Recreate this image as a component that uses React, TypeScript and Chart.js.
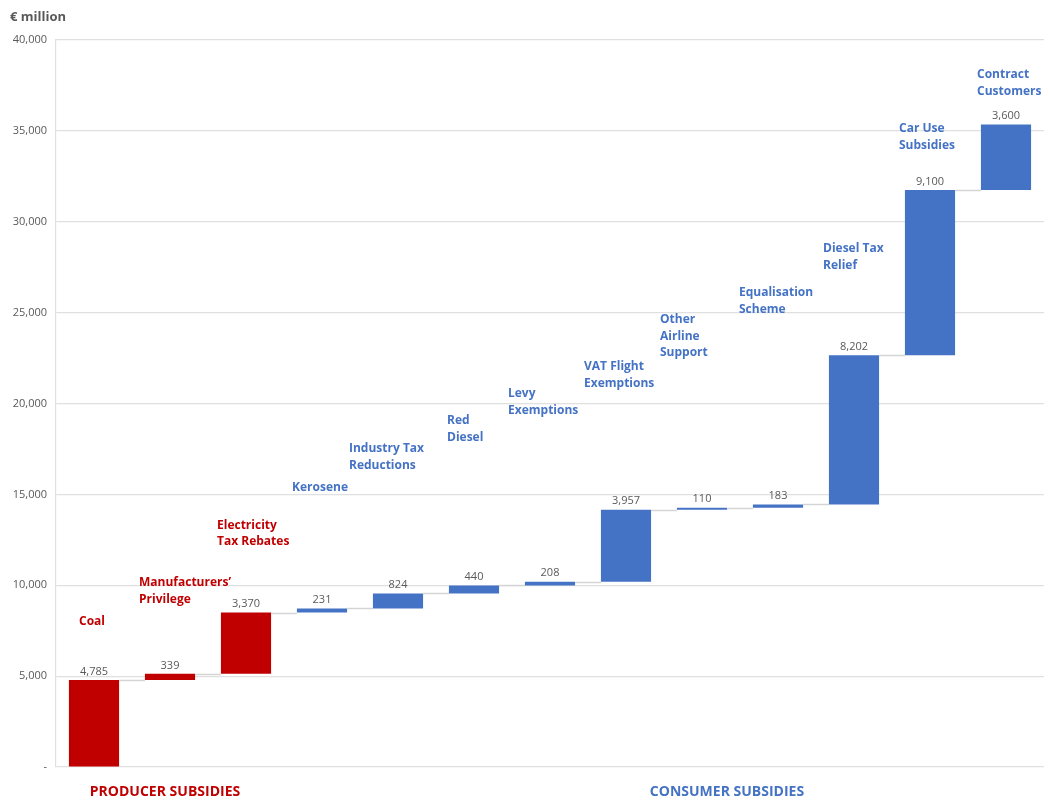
import React, { useEffect, useRef } from "react";
import { Chart, registerables } from "chart.js";

Chart.register(...registerables);

const categories: string[][] = [
  ["Coal"],
  ["Manufacturers’", "Privilege"],
  ["Electricity", "Tax Rebates"],
  ["Kerosene"],
  ["Industry Tax", "Reductions"],
  ["Red", "Diesel"],
  ["Levy", "Exemptions"],
  ["VAT Flight", "Exemptions"],
  ["Other", "Airline", "Support"],
  ["Equalisation", "Scheme"],
  ["Diesel Tax", "Relief"],
  ["Car Use", "Subsidies"],
  ["Contract", "Customers"],
];
const values: number[] = [4785, 339, 3370, 231, 824, 440, 208, 3957, 110, 183, 8202, 9100, 3600];
const groups: string[] = ["producer", "producer", "producer", "consumer", "consumer", "consumer", "consumer", "consumer", "consumer", "consumer", "consumer", "consumer", "consumer"];
const yTicks: number[] = [0, 5000, 10000, 15000, 20000, 25000, 30000, 35000, 40000];

// label placement: [x offset in px from bar centre, y anchor value of first line]
const labelLayout: [number, number][] = [
  [-15, 7980], [-31, 10120], [-29, 13310], [-30, 15350], [-49, 17500], [-27, 19040],
  [-42, 20520], [-42, 22010], [-42, 24590], [-39, 26080], [-31, 28500], [-31, 35100], [-29, 38070],
];

const RED = "#c00000";
const BLUE = "#4472c4";

export default function App() {
  const ref = useRef<HTMLCanvasElement | null>(null);
  useEffect(() => {
    document.body.style.margin = "0";
    const starts: number[] = [];
    const ends: number[] = [];
    let acc = 0;
    values.forEach((v) => {
      starts.push(acc);
      acc += v;
      ends.push(acc);
    });
    const colors = groups.map((g) => (g === "producer" ? RED : BLUE));

    const overlay = {
      id: "overlay",
      afterDatasetsDraw(chart: any) {
        const ctx = chart.ctx;
        const meta = chart.getDatasetMeta(0);
        const ys = chart.scales.y;
        const xs = chart.scales.x;
        ctx.save();
        // connectors
        ctx.strokeStyle = "#d4d4d4";
        ctx.lineWidth = 1.5;
        for (let i = 0; i < meta.data.length - 1; i++) {
          const a = meta.data[i];
          const b = meta.data[i + 1];
          const y = Math.round(ys.getPixelForValue(ends[i])) + 0.5;
          ctx.beginPath();
          ctx.moveTo(a.x + a.width / 2, y);
          ctx.lineTo(b.x - b.width / 2, y);
          ctx.stroke();
        }
        // value labels
        ctx.fillStyle = "#595959";
        ctx.font = "11px 'Open Sans'";
        ctx.textAlign = "center";
        ctx.textBaseline = "bottom";
        meta.data.forEach((el: any, i: number) => {
          const top = ys.getPixelForValue(ends[i]);
          ctx.fillText(values[i].toLocaleString("en-US"), el.x, top - 3);
        });
        // category labels
        ctx.font = "bold 12px 'Open Sans'";
        ctx.textAlign = "left";
        ctx.textBaseline = "middle";
        categories.forEach((lines, i) => {
          const [dx, yv] = labelLayout[i];
          const x = xs.getPixelForValue(i) + dx;
          const y0 = ys.getPixelForValue(yv);
          ctx.fillStyle = colors[i];
          lines.forEach((ln, k) => ctx.fillText(ln, x, y0 + k * 16.5));
        });
        // group labels
        ctx.font = "bold 14px 'Open Sans'";
        ctx.textAlign = "center";
        ctx.fillStyle = RED;
        ctx.fillText("PRODUCER SUBSIDIES", 165, 792);
        ctx.fillStyle = BLUE;
        ctx.fillText("CONSUMER SUBSIDIES", 727, 792);
        // unit
        ctx.font = "bold 13px 'Open Sans'";
        ctx.textAlign = "left";
        ctx.fillStyle = "#595959";
        ctx.fillText("€ million", 10, 17);
        ctx.restore();
      },
    };

    const chart = new Chart(ref.current as HTMLCanvasElement, {
      type: "bar",
      data: {
        labels: categories.map((c) => c.join(" ")),
        datasets: [
          {
            data: values.map((_, i) => [starts[i], ends[i]]) as any,
            backgroundColor: colors,
            borderWidth: 0,
            barPercentage: 0.66,
            categoryPercentage: 1,
          },
        ],
      },
      options: {
        animation: false,
        responsive: false,
        maintainAspectRatio: false,
        layout: { padding: { left: 0, top: 40, right: 6, bottom: 35 } },
        plugins: { legend: { display: false }, tooltip: { enabled: false } },
        scales: {
          x: { display: false, offset: true },
          y: {
            min: 0,
            max: 40000,
            afterFit(scale: any) {
              scale.width = 56;
            },
            afterBuildTicks(scale: any) {
              scale.ticks = yTicks.map((v) => ({ value: v }));
            },
            ticks: {
              color: "#595959",
              font: { family: "'Open Sans'", size: 11 },
              padding: 9,
              callback: (v: any) => (Number(v) === 0 ? "-" : Number(v).toLocaleString("en-US")),
            },
            grid: { color: "#e0e0e0", drawTicks: false, lineWidth: 1.2 },
            border: { color: "#e0e0e0", width: 1.2 },
          },
        },
      },
      plugins: [overlay],
    });
    return () => chart.destroy();
  }, []);
  return (
    <div style={{ position: "absolute", left: 0, top: 0, width: 1050, height: 802 }}>
      <canvas ref={ref} width={1050} height={802} style={{ width: 1050, height: 802 }} />
    </div>
  );
}
